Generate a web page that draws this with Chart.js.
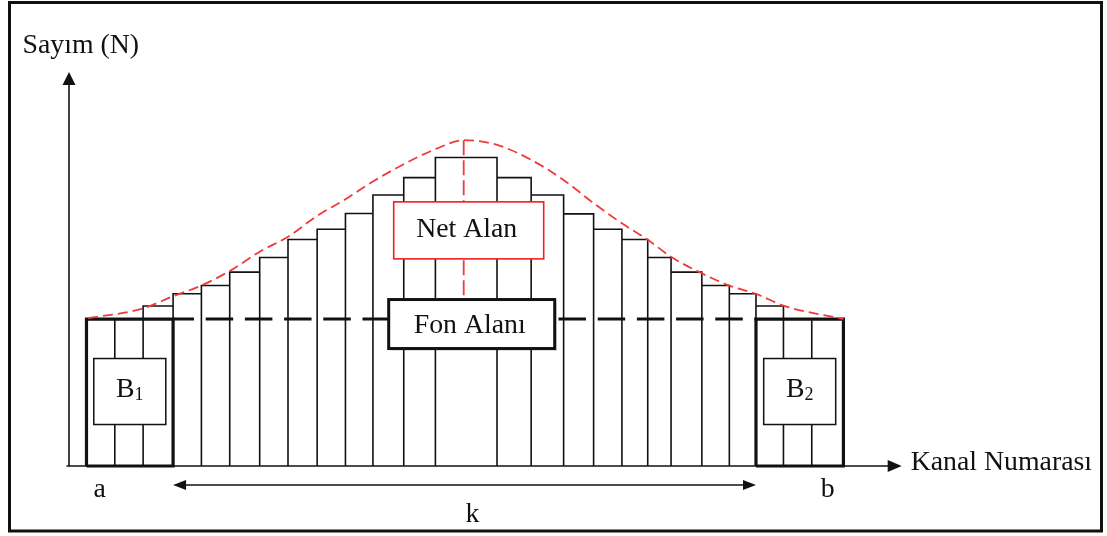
<!DOCTYPE html>
<html>
<head>
<meta charset="utf-8">
<script src="https://cdn.jsdelivr.net/npm/chart.js@4/dist/chart.umd.min.js"></script>
<style>
  html, body { margin: 0; padding: 0; background: #fff; }
  canvas { display: block; }
</style>
</head>
<body>
<canvas id="c" width="1107" height="536"></canvas>
<script>
// Channel boundaries (kanal) and the counts recorded in each channel
const channelEdges = [2.1, 5.5, 8.9, 12.5, 15.9, 19.3, 22.9, 26.3, 29.8, 33.2, 36.5, 40.2, 44.0,
                      51.4, 55.5, 59.4, 63.0, 66.4, 69.5, 72.3, 76.0, 79.3, 82.5, 85.8, 89.2, 93.0];
const counts = [37.3, 37.3, 40.6, 43.7, 45.8, 49.2, 52.9, 57.5, 60.1, 64.1, 68.8, 73.2, 78.3,
                73.2, 68.8, 64.0, 60.1, 57.5, 52.9, 49.2, 45.8, 43.7, 40.6, 37.3, 37.3];

// Background (fon) level taken from the side windows B1 and B2
const backgroundLevel = 37.3;
const b1Edges = [0, 3];    // edge indices enclosing B1
const b2Edges = [22, 25];  // edge indices enclosing B2

// Fitted peak shape
const fitX = [2.3, 8.9, 12.5, 15.9, 19.3, 22.9, 26.3, 29.8, 33.2, 36.5, 40.2, 44.0, 47.4,
              51.4, 55.5, 59.4, 63.0, 66.4, 69.5, 72.3, 76.0, 79.3, 82.5, 85.8, 93.0];
const fitY = [37.5, 40.0, 43.1, 45.8, 49.5, 54.4, 58.2, 63.5, 67.7, 72.2, 76.6, 80.4, 82.7,
              81.5, 77.7, 72.6, 66.7, 61.6, 57.4, 53.1, 48.9, 45.8, 43.7, 40.7, 37.3];

// Text
const yTitle = 'Sayım (N)';
const xTitle = 'Kanal Numarası';
const netLabel = 'Net Alan';
const fonLabel = 'Fon Alanı';
const edgeLabels = ['a', 'b'];
const widthLabel = 'k';

const FONT = '"Liberation Serif", "Times New Roman", serif';
const SIZE = 27.8;

// Histogram outline: each channel drawn as an open-bottom rectangle
const histPoints = [];
counts.forEach((c, i) => {
  histPoints.push({x: channelEdges[i], y: 0});
  histPoints.push({x: channelEdges[i], y: c});
  histPoints.push({x: channelEdges[i + 1], y: c});
  histPoints.push({x: channelEdges[i + 1], y: 0});
});

function windowBox(ix) {
  const x0 = channelEdges[ix[0]], x1 = channelEdges[ix[1]];
  return [{x: x0, y: 0}, {x: x0, y: backgroundLevel}, {x: x1, y: backgroundLevel},
          {x: x1, y: 0}, {x: x0, y: 0}];
}
const windowPoints = [...windowBox(b1Edges), {x: null, y: null}, ...windowBox(b2Edges)];

const fonLine = [{x: channelEdges[b1Edges[1]], y: backgroundLevel},
                 {x: channelEdges[b2Edges[0]], y: backgroundLevel}];

const peakIdx = fitY.indexOf(Math.max(...fitY));
const peakLine = [{x: fitX[peakIdx], y: fitY[peakIdx]}, {x: fitX[peakIdx], y: backgroundLevel}];

function arrowHead(ctx, x, y, dx, dy, len, half) {
  // dx,dy: unit direction of the arrow
  const px = -dy, py = dx;
  ctx.beginPath();
  ctx.moveTo(x, y);
  ctx.lineTo(x - dx * len + px * half, y - dy * len + py * half);
  ctx.lineTo(x - dx * len - px * half, y - dy * len - py * half);
  ctx.closePath();
  ctx.fill();
}

const decor = {
  id: 'decor',
  beforeDraw(chart) {
    const ctx = chart.ctx;
    ctx.save();
    ctx.fillStyle = '#fff';
    ctx.fillRect(0, 0, chart.width, chart.height);
    ctx.restore();
  },
  beforeDatasetsDraw(chart) {
    const ctx = chart.ctx;
    const xs = chart.scales.x, ys = chart.scales.y;
    const ox = xs.getPixelForValue(0), oy = ys.getPixelForValue(0);
    const top = ys.getPixelForValue(100), right = xs.getPixelForValue(100);
    ctx.save();
    ctx.strokeStyle = '#111';
    ctx.fillStyle = '#111';
    ctx.lineWidth = 1.6;
    // y axis
    ctx.beginPath(); ctx.moveTo(ox, oy); ctx.lineTo(ox, top + 10); ctx.stroke();
    arrowHead(ctx, ox, top, 0, -1, 13, 6.5);
    // x axis
    ctx.beginPath(); ctx.moveTo(ox - 2.5, oy); ctx.lineTo(right - 10, oy); ctx.stroke();
    arrowHead(ctx, right, oy, 1, 0, 14, 6);
    ctx.restore();
  },
  afterDatasetsDraw(chart) {
    const ctx = chart.ctx;
    const xs = chart.scales.x, ys = chart.scales.y;
    const oy = ys.getPixelForValue(0);
    ctx.save();
    ctx.textBaseline = 'alphabetic';

    // Window label boxes B1 / B2
    [[b1Edges, '1'], [b2Edges, '2']].forEach(([ix, sub]) => {
      const cx = (xs.getPixelForValue(channelEdges[ix[0]]) + xs.getPixelForValue(channelEdges[ix[1]])) / 2;
      const cy = ys.getPixelForValue(backgroundLevel / 2) - 1;
      const w = 72, h = 66;
      ctx.fillStyle = '#fff';
      ctx.fillRect(cx - w / 2, cy - h / 2, w, h);
      ctx.strokeStyle = '#111';
      ctx.lineWidth = 1.5;
      ctx.strokeRect(cx - w / 2, cy - h / 2, w, h);
      ctx.fillStyle = '#111';
      ctx.font = SIZE + 'px ' + FONT;
      const bw = ctx.measureText('B').width;
      ctx.font = '18px ' + FONT;
      const sw = ctx.measureText(sub).width;
      const sx = cx - (bw + sw) / 2;
      ctx.font = SIZE + 'px ' + FONT;
      ctx.textAlign = 'left';
      ctx.fillText('B', sx, cy + 5);
      ctx.font = '18px ' + FONT;
      ctx.fillText(sub, sx + bw, cy + 8);
    });

    const peakX = xs.getPixelForValue(fitX[peakIdx]);

    // Net area label (red frame)
    {
      const cx = peakX + 5, cy = ys.getPixelForValue(59.8);
      const w = 150, h = 57;
      ctx.fillStyle = '#fff';
      ctx.fillRect(cx - w / 2, cy - h / 2, w, h);
      ctx.strokeStyle = '#f21d1d';
      ctx.lineWidth = 1.6;
      ctx.strokeRect(cx - w / 2, cy - h / 2, w, h);
      ctx.fillStyle = '#111';
      ctx.font = SIZE + 'px ' + FONT;
      ctx.textAlign = 'center';
      ctx.fillText(netLabel, cx - 2, cy + 6.5);
    }

    // Background area label (heavy frame with a light shadow)
    {
      const cx = peakX + 8, cy = ys.getPixelForValue(backgroundLevel) + 5;
      const w = 166, h = 49;
      ctx.fillStyle = 'rgba(0,0,0,0.18)';
      ctx.fillRect(cx - w / 2 + 2, cy - h / 2 + 2, w, h);
      ctx.fillStyle = '#fff';
      ctx.fillRect(cx - w / 2, cy - h / 2, w, h);
      ctx.strokeStyle = '#111';
      ctx.lineWidth = 3;
      ctx.strokeRect(cx - w / 2, cy - h / 2, w, h);
      ctx.fillStyle = '#111';
      ctx.font = SIZE + 'px ' + FONT;
      ctx.textAlign = 'center';
      ctx.fillText(fonLabel, cx - 2, cy + 9);
    }

    // a / b under the first and last channel
    ctx.font = SIZE + 'px ' + FONT;
    ctx.textAlign = 'center';
    ctx.fillStyle = '#111';
    const firstC = (xs.getPixelForValue(channelEdges[0]) + xs.getPixelForValue(channelEdges[1])) / 2;
    const lastC = (xs.getPixelForValue(channelEdges[channelEdges.length - 2]) +
                   xs.getPixelForValue(channelEdges[channelEdges.length - 1])) / 2;
    ctx.fillText(edgeLabels[0], firstC - 1, oy + 31);
    ctx.fillText(edgeLabels[1], lastC, oy + 31);

    // k: span between the two background windows
    const kx0 = xs.getPixelForValue(channelEdges[b1Edges[1]]);
    const kx1 = xs.getPixelForValue(channelEdges[b2Edges[0]]);
    const ky = oy + 19;
    ctx.strokeStyle = '#111';
    ctx.lineWidth = 1.6;
    ctx.beginPath(); ctx.moveTo(kx0 + 8, ky); ctx.lineTo(kx1 - 8, ky); ctx.stroke();
    arrowHead(ctx, kx0, ky, -1, 0, 13, 5);
    arrowHead(ctx, kx1, ky, 1, 0, 13, 5);
    ctx.fillText(widthLabel, (kx0 + kx1) / 2 + 8, oy + 56);

    // Axis titles
    ctx.textAlign = 'left';
    ctx.fillText(yTitle, 22.5, 53);
    ctx.fillText(xTitle, xs.getPixelForValue(100) + 9, oy + 3.5);

    // Outer frame
    ctx.strokeStyle = '#111';
    ctx.lineWidth = 3;
    ctx.strokeRect(9.5, 2.5, 1092, 528.5);
    ctx.restore();
  }
};

new Chart(document.getElementById('c'), {
  type: 'scatter',
  data: {
    datasets: [
      { data: histPoints, showLine: true, borderColor: '#111', borderWidth: 1.6,
        borderJoinStyle: 'miter', pointRadius: 0, tension: 0, clip: false, order: 3 },
      { data: windowPoints, showLine: true, spanGaps: false, borderColor: '#111', borderWidth: 3.2,
        borderJoinStyle: 'miter', pointRadius: 0, tension: 0, clip: false, order: 2 },
      { data: fonLine, showLine: true, borderColor: '#111', borderWidth: 3,
        borderDash: [27.5, 11.7], borderDashOffset: 6.6, pointRadius: 0, clip: false, order: 1 },
      { data: fitX.map((x, i) => ({x, y: fitY[i]})), showLine: true, borderColor: '#f03a3a',
        borderWidth: 1.8, borderDash: [10, 5], cubicInterpolationMode: 'monotone',
        pointRadius: 0, clip: false, order: 0 },
      { data: peakLine, showLine: true, borderColor: '#f03a3a', borderWidth: 1.8,
        borderDash: [15, 5], pointRadius: 0, clip: false, order: 0 }
    ]
  },
  options: {
    responsive: false,
    animation: false,
    devicePixelRatio: 1,
    layout: { padding: { left: 69, right: 205.3, top: 72, bottom: 70 } },
    scales: {
      x: { type: 'linear', min: 0, max: 100, display: false },
      y: { type: 'linear', min: 0, max: 100, display: false }
    },
    plugins: { legend: { display: false }, tooltip: { enabled: false } }
  },
  plugins: [decor]
});
</script>
</body>
</html>
